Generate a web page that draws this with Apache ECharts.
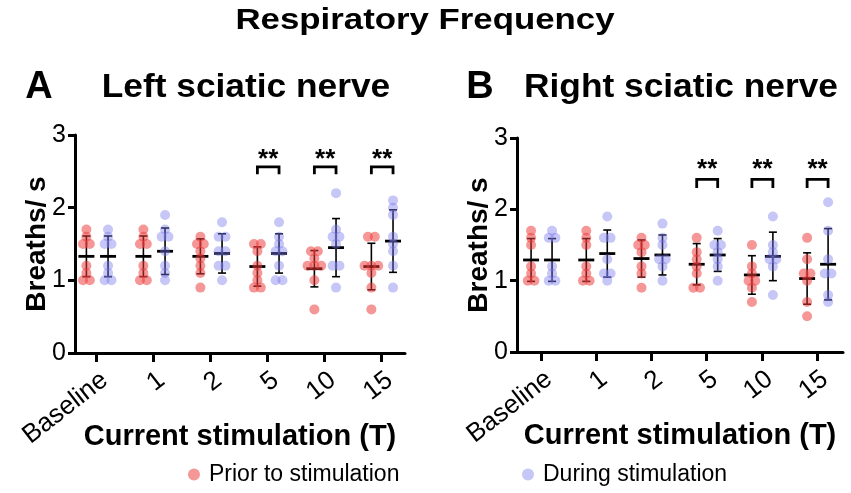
<!DOCTYPE html>
<html>
<head>
<meta charset="utf-8">
<title>Respiratory Frequency</title>
<script src="https://cdn.jsdelivr.net/npm/echarts@6/dist/echarts.min.js"></script>
<style>
  html, body { margin: 0; padding: 0; background: #fff; }
  #chart { width: 851px; height: 493px; }
</style>
</head>
<body>
<div id="chart"></div>
<script>
var categories = ['Baseline', '1', '2', '5', '10', '15'];
var sigGroups = [3, 4, 5];

// A - left sciatic nerve, breaths/s per animal
var leftPrior = [
  [1.7, 1.6, 1.5, 1.5, 1.2, 1.1, 1.0, 1.0],
  [1.7, 1.6, 1.5, 1.5, 1.2, 1.1, 1.0, 1.0],
  [1.6, 1.5, 1.5, 1.4, 1.3, 1.2, 1.1, 0.9],
  [1.5, 1.5, 1.4, 1.2, 1.1, 1.0, 0.9, 0.9],
  [1.4, 1.4, 1.3, 1.2, 1.2, 1.2, 1.0, 0.6],
  [1.6, 1.6, 1.2, 1.2, 1.2, 1.1, 0.9, 0.6]
];
var leftDuring = [
  [1.7, 1.6, 1.5, 1.5, 1.2, 1.1, 1.0, 1.0],
  [1.9, 1.7, 1.6, 1.6, 1.4, 1.2, 1.1, 1.0],
  [1.8, 1.6, 1.6, 1.4, 1.4, 1.2, 1.2, 1.0],
  [1.8, 1.6, 1.5, 1.4, 1.4, 1.2, 1.0, 1.0],
  [2.2, 1.7, 1.6, 1.6, 1.5, 1.2, 1.2, 0.9],
  [2.1, 2.0, 1.9, 1.6, 1.5, 1.4, 1.2, 0.9]
];
var leftPriorMean = [1.33, 1.33, 1.33, 1.19, 1.16, 1.19];
var leftPriorSD = [0.28, 0.28, 0.24, 0.27, 0.25, 0.32];
var leftDuringMean = [1.33, 1.40, 1.37, 1.37, 1.45, 1.54];
var leftDuringSD = [0.28, 0.32, 0.27, 0.27, 0.40, 0.43];

// B - right sciatic nerve
var rightPrior = [
  [1.7, 1.6, 1.5, 1.2, 1.1, 1.0, 1.0],
  [1.7, 1.6, 1.5, 1.2, 1.1, 1.0, 1.0],
  [1.6, 1.5, 1.5, 1.4, 1.2, 1.1, 0.9],
  [1.6, 1.4, 1.3, 1.2, 1.1, 0.9, 0.9],
  [1.5, 1.2, 1.1, 1.0, 1.0, 0.9, 0.7],
  [1.6, 1.3, 1.1, 1.1, 1.0, 0.7, 0.5]
];
var rightDuring = [
  [1.7, 1.6, 1.6, 1.2, 1.1, 1.0, 1.0],
  [1.9, 1.6, 1.6, 1.3, 1.1, 1.1, 1.0],
  [1.8, 1.6, 1.5, 1.3, 1.3, 1.2, 1.0],
  [1.7, 1.5, 1.5, 1.4, 1.3, 1.2, 1.0],
  [1.9, 1.5, 1.4, 1.3, 1.3, 1.2, 0.8],
  [2.1, 1.7, 1.3, 1.1, 1.1, 0.8, 0.7]
];
var rightPriorMean = [1.29, 1.29, 1.31, 1.23, 1.08, 1.03];
var rightPriorSD = [0.30, 0.30, 0.26, 0.29, 0.27, 0.36];
var rightDuringMean = [1.29, 1.38, 1.36, 1.36, 1.34, 1.23];
var rightDuringSD = [0.30, 0.33, 0.28, 0.23, 0.34, 0.50];

var RED = 'rgba(238, 58, 58, 0.66)';
var BLUE = 'rgba(118, 118, 235, 0.52)';
var OFF_PRIOR = -0.18, OFF_DURING = 0.2;
var FONT = '"Liberation Sans", Arial, Helvetica, sans-serif';
var tickIdx = categories.map(function (c, i) { return i; });

// spread equal values side by side, like a scatter dot plot
function points(groups, off) {
  var res = [];
  groups.forEach(function (vals, i) {
    var count = {}, used = {};
    vals.forEach(function (v) { count[v] = (count[v] || 0) + 1; });
    vals.forEach(function (v) {
      var k = used[v] || 0;
      used[v] = k + 1;
      res.push([i + off + (k - (count[v] - 1) / 2) * 0.12, v]);
    });
  });
  return res;
}

function bars(means, sds) {
  return means.map(function (m, i) { return [i, m, sds[i]]; });
}

function errRender(off) {
  return function (params, api) {
    var x = api.value(0) + off, m = api.value(1), s = api.value(2);
    var c = api.coord([x, m]);
    var hi = api.coord([x, m + s])[1], lo = api.coord([x, m - s])[1];
    var st = { stroke: '#000', lineWidth: 1.6 };
    return {
      type: 'group',
      children: [
        { type: 'line', shape: { x1: c[0], y1: hi, x2: c[0], y2: lo }, style: st },
        { type: 'line', shape: { x1: c[0] - 4, y1: hi, x2: c[0] + 4, y2: hi }, style: st },
        { type: 'line', shape: { x1: c[0] - 4, y1: lo, x2: c[0] + 4, y2: lo }, style: st },
        { type: 'line', shape: { x1: c[0] - 8, y1: c[1], x2: c[0] + 8, y2: c[1] }, style: { stroke: '#000', lineWidth: 2.8 } }
      ]
    };
  };
}

function sigRender(top, leg, star) {
  return function (params, api) {
    var i = api.value(0);
    var a = api.coord([i + OFF_PRIOR, top]), b = api.coord([i + OFF_DURING, top]);
    var l = api.coord([i, leg])[1], t = api.coord([i, star])[1];
    return {
      type: 'group',
      children: [
        { type: 'polyline', shape: { points: [[a[0], l], [a[0], a[1]], [b[0], b[1]], [b[0], l]] },
          style: { stroke: '#000', lineWidth: 2.8, fill: null } },
        { type: 'text', x: (a[0] + b[0]) / 2, y: t,
          style: { text: '**', fontSize: 26, fontWeight: 'bold', fontFamily: FONT, fill: '#000', align: 'center', verticalAlign: 'middle' } }
      ]
    };
  };
}

function xAxisFor(g, min, max) {
  return {
    type: 'value', gridIndex: g, min: min, max: max,
    axisLine: { show: true, onZero: false, lineStyle: { color: '#000', width: 3 } },
    axisTick: { show: true, length: 9, customValues: tickIdx, lineStyle: { color: '#000', width: 3 } },
    axisLabel: { customValues: tickIdx, rotate: 38, margin: 14, fontSize: 26, color: '#000', fontFamily: FONT,
      verticalAlign: 'top',
      formatter: function (v) { return categories[Math.round(v)]; } },
    splitLine: { show: false },
    name: 'Current stimulation (T)', nameLocation: 'middle', nameGap: 69, nameMoveOverlap: false,
    nameTextStyle: { fontSize: 29, fontWeight: 'bold', color: '#000', fontFamily: FONT }
  };
}

function yAxisFor(g) {
  return {
    type: 'value', gridIndex: g, min: 0, max: 3, interval: 1,
    axisLine: { show: true, onZero: false, lineStyle: { color: '#000', width: 3 } },
    axisTick: { show: true, length: 7, lineStyle: { color: '#000', width: 3 } },
    axisLabel: { fontSize: 25, color: '#000', margin: 9, fontFamily: FONT },
    splitLine: { show: false },
    name: 'Breaths/ s', nameLocation: 'middle', nameGap: 24, nameMoveOverlap: false,
    nameTextStyle: { fontSize: 28, fontWeight: 'bold', color: '#000', fontFamily: FONT }
  };
}

function panelSeries(g, prior, during, pm, ps, dm, ds, sig) {
  return [
    { type: 'custom', xAxisIndex: g, yAxisIndex: g, z: 2,
      renderItem: errRender(OFF_PRIOR), data: bars(pm, ps), encode: { x: 0, y: 1 }, silent: true },
    { type: 'custom', xAxisIndex: g, yAxisIndex: g, z: 2,
      renderItem: errRender(OFF_DURING), data: bars(dm, ds), encode: { x: 0, y: 1 }, silent: true },
    { name: 'Prior to stimulation', type: 'scatter', xAxisIndex: g, yAxisIndex: g, z: 3,
      symbolSize: 10, itemStyle: { color: RED }, data: points(prior, OFF_PRIOR) },
    { name: 'During stimulation', type: 'scatter', xAxisIndex: g, yAxisIndex: g, z: 3,
      symbolSize: 10, itemStyle: { color: BLUE }, data: points(during, OFF_DURING) },
    { type: 'custom', xAxisIndex: g, yAxisIndex: g, z: 2, silent: true,
      renderItem: sigRender(sig[0], sig[1], sig[2]),
      data: sigGroups.map(function (i) { return [i, sig[0]]; }), encode: { x: 0, y: 1 } }
  ];
}

function label(text, x, y, size, sx) {
  return { type: 'text', x: x, y: y, scaleX: sx || 1,
    style: { text: text, fontSize: size, fontWeight: 'bold', fontFamily: FONT, fill: '#000', align: 'center', verticalAlign: 'middle' } };
}

var chart = echarts.init(document.getElementById('chart'));
chart.setOption({
  animation: false,
  textStyle: { fontFamily: FONT },
  graphic: [
    label('Respiratory Frequency', 425, 21, 30, 1.16),
    label('A', 39, 88, 38),
    label('Left sciatic nerve', 246, 88, 33, 1.07),
    label('B', 480, 88, 38),
    label('Right sciatic nerve', 681, 88, 33, 1.07)
  ],
  legend: [
    { data: ['Prior to stimulation'], left: 183, top: 458, icon: 'circle', itemWidth: 12, itemHeight: 12,
      selectedMode: false, textStyle: { fontSize: 23, color: '#000', padding: [0, 0, 0, 4] } },
    { data: ['During stimulation'], left: 517, top: 458, icon: 'circle', itemWidth: 12, itemHeight: 12,
      selectedMode: false, textStyle: { fontSize: 23, color: '#000', padding: [0, 0, 0, 4] } }
  ],
  grid: [
    { left: 75, top: 135, width: 330, height: 218 },
    { left: 517, top: 138, width: 326, height: 214 }
  ],
  xAxis: [xAxisFor(0, -0.38, 5.41), xAxisFor(1, -0.435, 5.47)],
  yAxis: [yAxisFor(0), yAxisFor(1)],
  series: [].concat(
    panelSeries(0, leftPrior, leftDuring, leftPriorMean, leftPriorSD, leftDuringMean, leftDuringSD, [2.56, 2.46, 2.66]),
    panelSeries(1, rightPrior, rightDuring, rightPriorMean, rightPriorSD, rightDuringMean, rightDuringSD, [2.42, 2.30, 2.55])
  )
});
</script>
</body>
</html>
